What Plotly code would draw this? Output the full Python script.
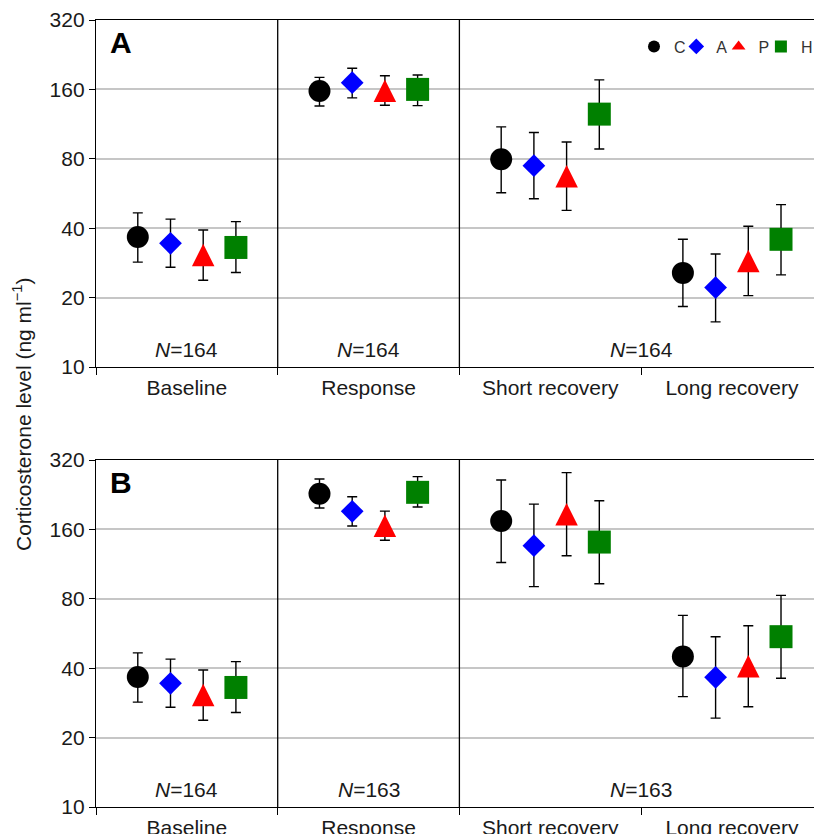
import plotly.graph_objects as go
import math

categories = ["Baseline", "Response", "Short recovery", "Long recovery"]
groups = ["C", "A", "P", "H"]
tick_vals = [10, 20, 40, 80, 160, 320]
tick_text = ["10", "20", "40", "80", "160", "320"]

# Panel A (means, upper and lower error limits), ng/ml
a_C = [36.6, 157.5, 79.6, 25.6]
a_C_hi = [46.6, 180.5, 110.0, 35.8]
a_C_lo = [28.5, 135.6, 57.0, 18.3]
a_A = [34.4, 171.0, 74.7, 22.1]
a_A_hi = [43.8, 197.5, 104.0, 30.9]
a_A_lo = [27.1, 147.0, 53.7, 15.7]
a_P = [30.6, 158.0, 67.2, 28.8]
a_P_hi = [39.3, 183.5, 94.6, 40.8]
a_P_lo = [23.8, 136.5, 47.8, 20.4]
a_H = [33.0, 160.0, 125.0, 35.8]
a_H_hi = [42.7, 184.7, 176.0, 50.6]
a_H_lo = [25.7, 136.0, 88.2, 25.1]

# Panel B
b_C = [36.6, 228.6, 174.0, 45.0]
b_C_hi = [46.6, 264.7, 262.0, 67.8]
b_C_lo = [28.5, 198.0, 115.0, 30.1]
b_A = [34.4, 191.7, 136.0, 36.5]
b_A_hi = [43.8, 221.8, 206.0, 54.8]
b_A_lo = [27.1, 165.5, 90.3, 24.3]
b_P = [30.6, 166.0, 186.0, 40.8]
b_P_hi = [39.3, 192.0, 282.0, 61.1]
b_P_lo = [23.8, 143.5, 123.0, 27.2]
b_H = [33.0, 231.7, 141.0, 54.8]
b_H_hi = [42.7, 271.0, 213.0, 82.8]
b_H_lo = [25.7, 200.0, 93.0, 36.2]

n_labels_a = ["164", "164", "164"]
n_labels_b = ["164", "163", "163"]

FONT = "Arial, Liberation Sans, sans-serif"
TXT = "#1a1a1a"
styles = {
    "C": dict(symbol="circle", size=22, color="#000000"),
    "A": dict(symbol="diamond", size=17.5, color="#0000ff"),
    "P": dict(symbol="triangle-up", size=20, color="#ff0000"),
    "H": dict(symbol="square", size=23, color="#008000"),
}
offsets = {"C": -0.27, "A": -0.09, "P": 0.09, "H": 0.27}

W, H = 814, 834
ml, mr, mt, mb = 96, 0, 20, 27
ph = H - mt - mb
plot_w = W - ml - mr
cat_px = 181.7
xr = [0, plot_w / cat_px]
panel_px = 347.0
y_lo, y_hi = 1.0, math.log10(320)

# triangle drawn as an "arrow-up" (apex at the point) on an overlay axis raised by half its height
TRI_SIZE = 22.5
tri_shift = (TRI_SIZE / 2) / panel_px * (y_hi - y_lo)

def ydom(top_px, bot_px):
    return [(H - mb - bot_px) / ph, (H - mb - top_px) / ph]

dom_a = ydom(20, 367)
dom_b = ydom(460, 807)

panels = [
    ("x", "y", "y3", {"C": (a_C, a_C_hi, a_C_lo), "A": (a_A, a_A_hi, a_A_lo),
                      "P": (a_P, a_P_hi, a_P_lo), "H": (a_H, a_H_hi, a_H_lo)}, True),
    ("x2", "y2", "y4", {"C": (b_C, b_C_hi, b_C_lo), "A": (b_A, b_A_hi, b_A_lo),
                        "P": (b_P, b_P_hi, b_P_lo), "H": (b_H, b_H_hi, b_H_lo)}, False),
]

fig = go.Figure()
for xa, ya, ya_tri, data, show in panels:
    for g in groups:
        vals, hi, lo = data[g]
        st = styles[g]
        xs = [i + 0.5 + offsets[g] for i in range(len(categories))]
        err = dict(type="data", symmetric=False,
                   array=[h - v for h, v in zip(hi, vals)],
                   arrayminus=[v - l for l, v in zip(lo, vals)],
                   color="#000000", thickness=1.4, width=5)
        if g == "P":
            fig.add_trace(go.Scatter(
                x=xs, y=vals, xaxis=xa, yaxis=ya, mode="markers", name=g,
                legendgroup=g, showlegend=show,
                marker=dict(symbol="triangle-up", size=0.5, color=st["color"], line=dict(width=0)),
                error_y=err, hoverinfo="skip"))
            fig.add_trace(go.Scatter(
                x=xs, y=vals, xaxis=xa, yaxis=ya_tri, mode="markers", name=g,
                legendgroup=g, showlegend=False,
                marker=dict(symbol="arrow-up", size=TRI_SIZE, color=st["color"], line=dict(width=0))))
        else:
            extra = {"legendwidth": 0.078} if g == "H" else {}
            fig.add_trace(go.Scatter(
                x=xs, y=vals, xaxis=xa, yaxis=ya, mode="markers", name=g,
                legendgroup=g, showlegend=show,
                marker=dict(symbol=st["symbol"], size=st["size"], color=st["color"],
                            line=dict(width=0)),
                error_y=err, **extra))

xaxis_common = dict(
    range=xr, tickmode="array", tickvals=[0.5, 1.5, 2.5, 3.5], ticktext=categories,
    ticks="", showgrid=False, zeroline=False, showline=True, linecolor="#000000",
    linewidth=1.3, mirror=True, tickfont=dict(size=21, color=TXT, family=FONT),
    ticklabelstandoff=2,
    minor=dict(tickmode="array", tickvals=[0, 1, 2, 3, 4], ticks="outside", ticklen=7,
               tickcolor="#000000", tickwidth=1.3, showgrid=False),
)
yaxis_common = dict(
    type="log", range=[y_lo, y_hi], tickmode="array", tickvals=tick_vals,
    ticktext=tick_text, ticks="outside", ticklen=6, tickcolor="#000000", tickwidth=1.3,
    showgrid=True, gridcolor="#c6c6c6", gridwidth=1.5, zeroline=False, showline=True,
    linecolor="#000000", linewidth=1.3, tickfont=dict(size=21, color=TXT, family=FONT),
)
overlay_common = dict(type="log", range=[y_lo - tri_shift, y_hi - tri_shift], visible=False,
                      showgrid=False, zeroline=False)

fig.update_layout(
    width=W, height=H, margin=dict(l=ml, r=mr, t=mt, b=mb, autoexpand=False),
    plot_bgcolor="#ffffff", paper_bgcolor="#ffffff",
    font=dict(family=FONT, color=TXT),
    xaxis=dict(domain=[0, 1], anchor="y", **xaxis_common),
    yaxis=dict(domain=dom_a, anchor="x", **yaxis_common),
    xaxis2=dict(domain=[0, 1], anchor="y2", **xaxis_common),
    yaxis2=dict(domain=dom_b, anchor="x2", **yaxis_common),
    yaxis3=dict(overlaying="y", anchor="x", **overlay_common),
    yaxis4=dict(overlaying="y2", anchor="x2", **overlay_common),
    legend=dict(orientation="h", x=(634 - ml) / plot_w, xanchor="left",
                y=(H - mb - 29.5) / ph, yanchor="top",
                font=dict(size=16, color="#333333", family=FONT),
                itemsizing="constant", bgcolor="rgba(0,0,0,0)",
                entrywidthmode="fraction", entrywidth=37.3 / plot_w, tracegroupgap=0),
    showlegend=True,
)

shapes = []
for xa, ya in [("x", "y"), ("x2", "y2")]:
    for xv in [1, 2]:
        shapes.append(dict(type="line", xref=xa, yref=f"{ya} domain", x0=xv, x1=xv, y0=0, y1=1,
                           line=dict(color="#000000", width=1.3)))
fig.update_layout(shapes=shapes)

ann = []
for (xa, ya), letter, nl in [(("x", "y"), "A", n_labels_a), (("x2", "y2"), "B", n_labels_b)]:
    ann.append(dict(text=f"<b>{letter}</b>", xref=f"{xa} domain", yref=f"{ya} domain",
                    x=0, y=1, xanchor="left", yanchor="top", xshift=12, yshift=-4,
                    showarrow=False, font=dict(size=30, color="#000000", family=FONT)))
    for xv, n in zip([0.5, 1.5, 3.0], nl):
        ann.append(dict(text=f"<i>N</i>={n}", xref=xa, yref=f"{ya} domain", x=xv, y=0,
                        xanchor="center", yanchor="bottom", yshift=4, showarrow=False,
                        font=dict(size=21, color=TXT, family=FONT)))
ann.append(dict(text="Corticosterone level (ng ml<sup>\u22121</sup>)", xref="paper", yref="paper",
                x=(22 - ml) / plot_w, y=(H - mb - 414) / ph, xanchor="center", yanchor="middle",
                textangle=-90, showarrow=False, font=dict(size=21, color=TXT, family=FONT)))
fig.update_layout(annotations=ann)

fig.write_html(
    "out.html",
    config={"displayModeBar": False},
    post_script="document.body.style.margin='0px';"
                "document.documentElement.style.overflow='hidden';"
                "document.body.style.overflow='hidden';",
)
